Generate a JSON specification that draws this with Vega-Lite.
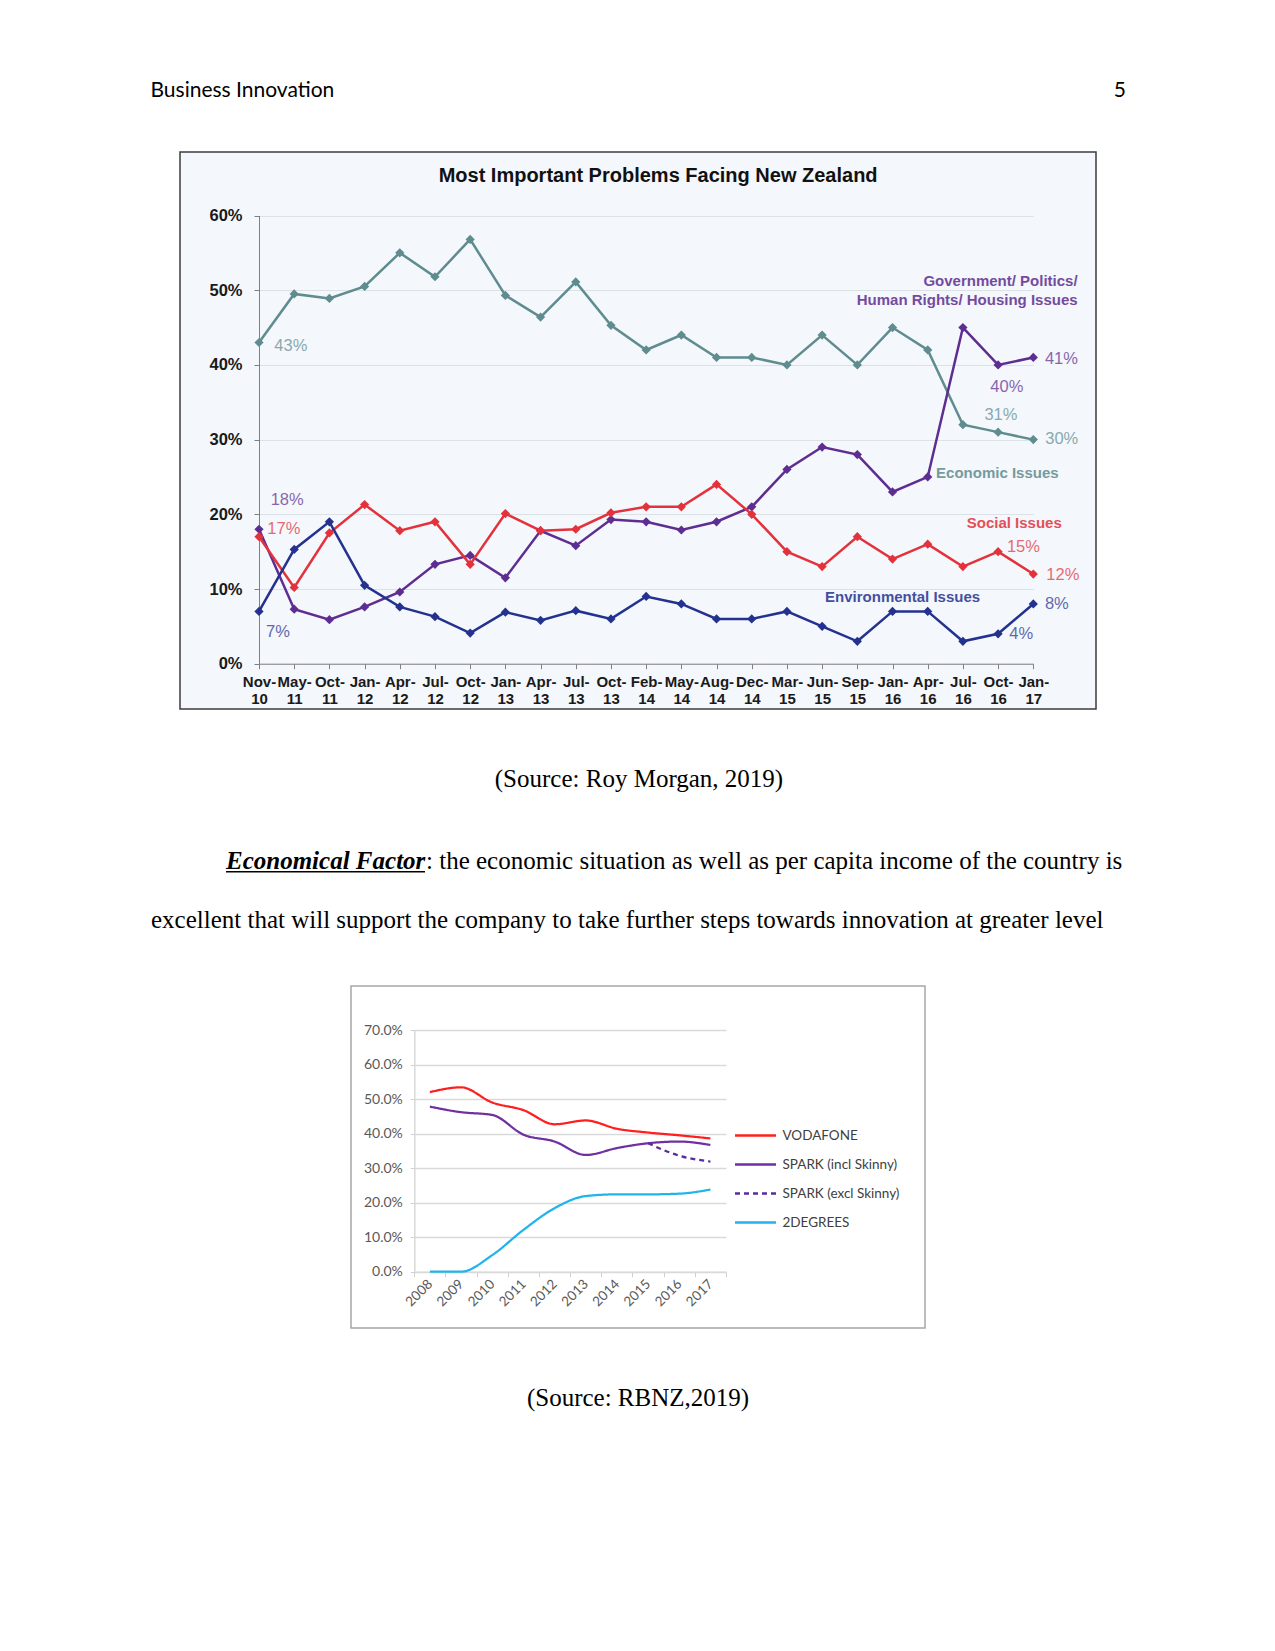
{
  "$schema": "https://vega.github.io/schema/vega-lite/v6.json",
  "background": "white",
  "padding": 0,
  "spacing": 0,
  "config": {"view": {"stroke": null}},
  "resolve": {"scale": {"color": "independent", "strokeDash": "independent"}, "legend": {"color": "independent", "strokeDash": "independent"}},
  "datasets": {
    "blank": [],
    "nz": [
      {"period": "Nov-10", "i": 0, "economic": 43, "government": 18, "social": 17, "environmental": 7},
      {"period": "May-11", "i": 1, "economic": 49.5, "government": 7.3, "social": 10.2, "environmental": 15.3},
      {"period": "Oct-11", "i": 2, "economic": 48.9, "government": 5.9, "social": 17.5, "environmental": 19},
      {"period": "Jan-12", "i": 3, "economic": 50.5, "government": 7.6, "social": 21.3, "environmental": 10.5},
      {"period": "Apr-12", "i": 4, "economic": 55, "government": 9.6, "social": 17.8, "environmental": 7.6},
      {"period": "Jul-12", "i": 5, "economic": 51.8, "government": 13.3, "social": 19, "environmental": 6.3},
      {"period": "Oct-12", "i": 6, "economic": 56.8, "government": 14.5, "social": 13.3, "environmental": 4.1},
      {"period": "Jan-13", "i": 7, "economic": 49.3, "government": 11.5, "social": 20.1, "environmental": 6.9},
      {"period": "Apr-13", "i": 8, "economic": 46.4, "government": 17.8, "social": 17.8, "environmental": 5.8},
      {"period": "Jul-13", "i": 9, "economic": 51.1, "government": 15.8, "social": 18, "environmental": 7.1},
      {"period": "Oct-13", "i": 10, "economic": 45.3, "government": 19.3, "social": 20.2, "environmental": 6},
      {"period": "Feb-14", "i": 11, "economic": 42, "government": 19, "social": 21, "environmental": 9},
      {"period": "May-14", "i": 12, "economic": 44, "government": 17.9, "social": 21, "environmental": 8},
      {"period": "Aug-14", "i": 13, "economic": 41, "government": 19, "social": 24, "environmental": 6},
      {"period": "Dec-14", "i": 14, "economic": 41, "government": 21, "social": 20, "environmental": 6},
      {"period": "Mar-15", "i": 15, "economic": 40, "government": 26, "social": 15, "environmental": 7},
      {"period": "Jun-15", "i": 16, "economic": 44, "government": 29, "social": 13, "environmental": 5},
      {"period": "Sep-15", "i": 17, "economic": 40, "government": 28, "social": 17, "environmental": 3},
      {"period": "Jan-16", "i": 18, "economic": 45, "government": 23, "social": 14, "environmental": 7},
      {"period": "Apr-16", "i": 19, "economic": 42, "government": 25, "social": 16, "environmental": 7},
      {"period": "Jul-16", "i": 20, "economic": 32, "government": 45, "social": 13, "environmental": 3},
      {"period": "Oct-16", "i": 21, "economic": 31, "government": 40, "social": 15, "environmental": 4},
      {"period": "Jan-17", "i": 22, "economic": 30, "government": 41, "social": 12, "environmental": 8}
    ],
    "nzValues": [
      {"t": "43%", "series": "economic", "i": 0.435, "v": 42.48},
      {"t": "18%", "series": "government", "i": 0.332, "v": 21.87},
      {"t": "17%", "series": "social", "i": 0.236, "v": 17.99},
      {"t": "7%", "series": "environmental", "i": 0.199, "v": 4.28},
      {"t": "41%", "series": "government", "i": 22.33, "v": 40.83},
      {"t": "40%", "series": "government", "i": 20.78, "v": 37.04},
      {"t": "31%", "series": "economic", "i": 20.61, "v": 33.25},
      {"t": "30%", "series": "economic", "i": 22.34, "v": 30.04},
      {"t": "15%", "series": "social", "i": 21.25, "v": 15.62},
      {"t": "12%", "series": "social", "i": 22.37, "v": 11.87},
      {"t": "8%", "series": "environmental", "i": 22.33, "v": 7.95},
      {"t": "4%", "series": "environmental", "i": 21.32, "v": 3.94}
    ],
    "nzNames": [
      {"t": "Government/ Politics/", "series": "government", "i": 23.26, "v": 51.19},
      {"t": "Human Rights/ Housing Issues", "series": "government", "i": 23.26, "v": 48.73},
      {"t": "Economic Issues", "series": "economic", "i": 22.72, "v": 25.48},
      {"t": "Social Issues", "series": "social", "i": 22.81, "v": 18.87},
      {"t": "Environmental Issues", "series": "environmental", "i": 20.49, "v": 8.97}
    ],
    "nzTitle": [
      {"t": "Most Important Problems Facing New Zealand", "i": 11.34, "v": 65.24}
    ],
    "rbnz": [
      {"year": "2008", "series": "VODAFONE", "v": 52.0},
      {"year": "2009", "series": "VODAFONE", "v": 53.4},
      {"year": "2010", "series": "VODAFONE", "v": 49.0},
      {"year": "2011", "series": "VODAFONE", "v": 46.8},
      {"year": "2012", "series": "VODAFONE", "v": 42.7},
      {"year": "2013", "series": "VODAFONE", "v": 43.8},
      {"year": "2014", "series": "VODAFONE", "v": 41.4},
      {"year": "2015", "series": "VODAFONE", "v": 40.3},
      {"year": "2016", "series": "VODAFONE", "v": 39.5},
      {"year": "2017", "series": "VODAFONE", "v": 38.6},
      {"year": "2008", "series": "SPARK (incl Skinny)", "v": 47.8},
      {"year": "2009", "series": "SPARK (incl Skinny)", "v": 46.2},
      {"year": "2010", "series": "SPARK (incl Skinny)", "v": 45.4},
      {"year": "2011", "series": "SPARK (incl Skinny)", "v": 39.7},
      {"year": "2012", "series": "SPARK (incl Skinny)", "v": 37.7},
      {"year": "2013", "series": "SPARK (incl Skinny)", "v": 33.8},
      {"year": "2014", "series": "SPARK (incl Skinny)", "v": 35.8},
      {"year": "2015", "series": "SPARK (incl Skinny)", "v": 37.2},
      {"year": "2016", "series": "SPARK (incl Skinny)", "v": 37.7},
      {"year": "2017", "series": "SPARK (incl Skinny)", "v": 36.7},
      {"year": "2015", "series": "SPARK (excl Skinny)", "v": 37.2},
      {"year": "2016", "series": "SPARK (excl Skinny)", "v": 33.6},
      {"year": "2017", "series": "SPARK (excl Skinny)", "v": 31.9},
      {"year": "2008", "series": "2DEGREES", "v": 0},
      {"year": "2009", "series": "2DEGREES", "v": 0},
      {"year": "2010", "series": "2DEGREES", "v": 4.8},
      {"year": "2011", "series": "2DEGREES", "v": 12.1},
      {"year": "2012", "series": "2DEGREES", "v": 18.4},
      {"year": "2013", "series": "2DEGREES", "v": 21.9},
      {"year": "2014", "series": "2DEGREES", "v": 22.4},
      {"year": "2015", "series": "2DEGREES", "v": 22.4},
      {"year": "2016", "series": "2DEGREES", "v": 22.6},
      {"year": "2017", "series": "2DEGREES", "v": 23.8}
    ]
  },
  "vconcat": [
    {
      "hconcat": [
        {
          "width": 637, "height": 151,
          "data": {"name": "blank"},
          "mark": {"type": "text", "text": ""},
          "title": {"text": "Business Innovation", "anchor": "start", "frame": "group", "orient": "top", "dx": 150.5, "offset": -101.1, "font": "Lato", "fontSize": 21, "fontWeight": "normal", "color": "#000000"}
        },
        {
          "width": 638, "height": 151,
          "data": {"name": "blank"},
          "mark": {"type": "text", "text": ""},
          "title": {"text": "5", "anchor": "end", "frame": "group", "orient": "top", "dx": -149, "offset": -101.1, "font": "Lato", "fontSize": 21, "fontWeight": "normal", "color": "#000000"}
        }
      ],
      "spacing": 0
    },
    {
      "hconcat": [
        {
          "width": 178.5, "height": 557,
          "data": {"name": "blank"},
          "mark": {"type": "text", "text": ""}
        },
        {
          "width": 916, "height": 557,
          "view": {"fill": "#F4F7FB", "stroke": "#3C3C3C", "strokeWidth": 1.5},
          "encoding": {
            "x": {
              "field": "i", "type": "quantitative",
              "scale": {"domain": [0, 22], "range": [79, 853.3], "nice": false, "zero": false},
              "axis": {
                "values": [0, 1, 2, 3, 4, 5, 6, 7, 8, 9, 10, 11, 12, 13, 14, 15, 16, 17, 18, 19, 20, 21, 22],
                "offset": -45.3,
                "labelExpr": "[['Nov-','10'],['May-','11'],['Oct-','11'],['Jan-','12'],['Apr-','12'],['Jul-','12'],['Oct-','12'],['Jan-','13'],['Apr-','13'],['Jul-','13'],['Oct-','13'],['Feb-','14'],['May-','14'],['Aug-','14'],['Dec-','14'],['Mar-','15'],['Jun-','15'],['Sep-','15'],['Jan-','16'],['Apr-','16'],['Jul-','16'],['Oct-','16'],['Jan-','17']][datum.value]",
                "labelFont": "Liberation Sans", "labelFontSize": 15, "labelFontWeight": "bold", "labelColor": "#1a1a1a",
                "labelLineHeight": 16.7, "labelPadding": 6, "labelOverlap": false, "labelFlush": false,
                "tickSize": 5, "tickColor": "#808080", "domainColor": "#808080", "grid": false, "title": null
              }
            },
            "y": {
              "field": "v", "type": "quantitative",
              "scale": {"domain": [0, 60], "range": [511.7, 63.5], "nice": false, "zero": false},
              "axis": {
                "values": [0, 10, 20, 30, 40, 50, 60],
                "offset": -79,
                "labelExpr": "datum.value + '%'",
                "labelFont": "Liberation Sans", "labelFontSize": 16.5, "labelFontWeight": "bold", "labelColor": "#1a1a1a",
                "labelPadding": 12, "tickSize": 5, "tickColor": "#808080", "domainColor": "#808080",
                "grid": true, "gridColor": "#DCE1E6", "title": null
              }
            }
          },
          "layer": [
            {
              "data": {"name": "nz"},
              "transform": [{"fold": ["economic", "government", "social", "environmental"], "as": ["series", "v"]}],
              "mark": {"type": "line", "strokeWidth": 2.5, "point": {"shape": "diamond", "size": 85, "filled": true, "opacity": 1}},
              "encoding": {
                "color": {
                  "field": "series", "type": "nominal",
                  "scale": {"domain": ["economic", "government", "social", "environmental"], "range": ["#5E8C8F", "#5E2D91", "#E3323B", "#24328F"]},
                  "legend": null
                }
              }
            },
            {
              "data": {"name": "nzValues"},
              "mark": {"type": "text", "align": "left", "baseline": "middle", "font": "Liberation Sans", "fontSize": 16.5, "opacity": 0.72},
              "encoding": {
                "text": {"field": "t"},
                "color": {"field": "series", "type": "nominal", "legend": null}
              }
            },
            {
              "data": {"name": "nzNames"},
              "mark": {"type": "text", "align": "right", "baseline": "middle", "font": "Liberation Sans", "fontSize": 15, "fontWeight": "bold", "opacity": 0.85},
              "encoding": {
                "text": {"field": "t"},
                "color": {"field": "series", "type": "nominal", "legend": null}
              }
            },
            {
              "data": {"name": "nzTitle"},
              "mark": {"type": "text", "align": "center", "baseline": "middle", "font": "Liberation Sans", "fontSize": 20, "fontWeight": "bold", "color": "#111111"},
              "encoding": {
                "text": {"field": "t"}
              }
            }
          ]
        }
      ],
      "spacing": 0,
      "resolve": {"scale": {"color": "independent"}, "legend": {"color": "independent"}}
    },
    {
      "vconcat": [
        {
          "width": 1275, "height": 137.45,
          "data": {"name": "blank"},
          "mark": {"type": "text", "text": ""},
          "title": {"text": "(Source: Roy Morgan, 2019)", "anchor": "middle", "frame": "group", "orient": "top", "dx": 1.5, "offset": -82.45, "font": "Liberation Serif", "fontSize": 25, "fontWeight": "normal", "color": "#000000"}
        },
        {
          "hconcat": [
            {
              "width": 225.5, "height": 1.5,
              "data": {"name": "blank"},
              "mark": {"type": "text", "text": ""}
            },
            {
              "width": 199, "height": 1.5,
              "view": {"fill": "#000000", "stroke": null},
              "data": {"name": "blank"},
              "mark": {"type": "text", "text": ""},
              "title": {"text": "Economical Factor", "anchor": "start", "frame": "group", "orient": "top", "offset": -2.95, "font": "Liberation Serif", "fontSize": 25, "fontWeight": "bold", "fontStyle": "italic", "color": "#000000"}
            },
            {
              "width": 850.5, "height": 1.5,
              "data": {"name": "blank"},
              "mark": {"type": "text", "text": ""},
              "title": {"text": ": the economic situation as well as per capita income of the country is", "anchor": "start", "frame": "group", "orient": "top", "offset": -2.95, "font": "Liberation Serif", "fontSize": 25, "fontWeight": "normal", "color": "#000000", "limit": 0}
            }
          ],
          "spacing": 0
        },
        {
          "width": 1275, "height": 110.35,
          "data": {"name": "blank"},
          "mark": {"type": "text", "text": ""},
          "title": {"text": "excellent that will support the company to take further steps towards innovation at greater level", "anchor": "start", "frame": "group", "orient": "top", "dx": 151, "offset": -59.3, "font": "Liberation Serif", "fontSize": 25, "fontWeight": "normal", "color": "#000000", "limit": 0}
        }
      ],
      "spacing": 0
    },
    {
      "hconcat": [
        {
          "width": 344.5, "height": 342,
          "data": {"name": "blank"},
          "mark": {"type": "text", "text": ""}
        },
        {
          "width": 574, "height": 342,
          "view": {"fill": "#FFFFFF", "stroke": "#A6A6A6", "strokeWidth": 1.5},
          "data": {"name": "rbnz"},
          "mark": {"type": "line", "strokeWidth": 2.25, "interpolate": "monotone"},
          "encoding": {
            "x": {
              "field": "year", "type": "ordinal", "bandPosition": 0.5,
              "scale": {"type": "band", "domain": ["2008", "2009", "2010", "2011", "2012", "2013", "2014", "2015", "2016", "2017"], "range": [63.3, 375], "paddingInner": 0, "paddingOuter": 0},
              "axis": {
                "offset": -56.3, "tickBand": "extent", "labelAngle": -45, "labelAlign": "right", "labelBaseline": "middle",
                "labelFont": "Lato", "labelFontSize": 13.5, "labelColor": "#595959", "labelPadding": 5, "labelOverlap": false,
                "tickSize": 5, "tickColor": "#D0D0D0", "domainColor": "#D9D9D9", "domainWidth": 1.5, "grid": false, "title": null
              }
            },
            "y": {
              "field": "v", "type": "quantitative",
              "scale": {"domain": [0, 70], "range": [285.7, 44], "nice": false, "zero": false},
              "axis": {
                "values": [0, 10, 20, 30, 40, 50, 60, 70],
                "offset": -63.3,
                "labelExpr": "format(datum.value, '.1f') + '%'",
                "labelFont": "Lato", "labelFontSize": 14, "labelColor": "#595959", "labelPadding": 8,
                "tickSize": 4, "tickColor": "#D0D0D0", "domainColor": "#D9D9D9", "domainWidth": 1.5,
                "grid": true, "gridColor": "#D9D9D9", "gridWidth": 1.5, "title": null
              }
            },
            "color": {
              "field": "series", "type": "nominal",
              "scale": {"domain": ["VODAFONE", "SPARK (incl Skinny)", "SPARK (excl Skinny)", "2DEGREES"], "range": ["#FF1F1F", "#7030A0", "#5B2A9E", "#1FB4EA"]},
              "legend": {
                "orient": "none", "legendX": 382.5, "legendY": 127.5, "title": null, "padding": 0,
                "symbolType": "stroke", "symbolSize": 1681, "symbolStrokeWidth": 2.5,
                "labelFont": "Lato", "labelFontSize": 13.5, "labelColor": "#404040", "labelOffset": 5, "labelLimit": 300,
                "rowPadding": -11.9
              }
            },
            "strokeDash": {
              "field": "series", "type": "nominal",
              "scale": {"domain": ["VODAFONE", "SPARK (incl Skinny)", "SPARK (excl Skinny)", "2DEGREES"], "range": [[1, 0], [1, 0], [5, 4], [1, 0]]},
              "legend": {
                "orient": "none", "legendX": 382.5, "legendY": 127.5, "title": null, "padding": 0,
                "symbolType": "stroke", "symbolSize": 1681, "symbolStrokeWidth": 2.5,
                "labelFont": "Lato", "labelFontSize": 13.5, "labelColor": "#404040", "labelOffset": 5, "labelLimit": 300,
                "rowPadding": -11.9
              }
            }
          }
        }
      ],
      "spacing": 0,
      "resolve": {"scale": {"color": "independent", "strokeDash": "independent"}, "legend": {"color": "independent", "strokeDash": "independent"}}
    },
    {
      "width": 1275, "height": 321.5,
      "data": {"name": "blank"},
      "mark": {"type": "text", "text": ""},
      "title": {"text": "(Source: RBNZ,2019)", "anchor": "middle", "frame": "group", "orient": "top", "dx": 0.5, "offset": -82.25, "font": "Liberation Serif", "fontSize": 25, "fontWeight": "normal", "color": "#000000"}
    }
  ]
}
